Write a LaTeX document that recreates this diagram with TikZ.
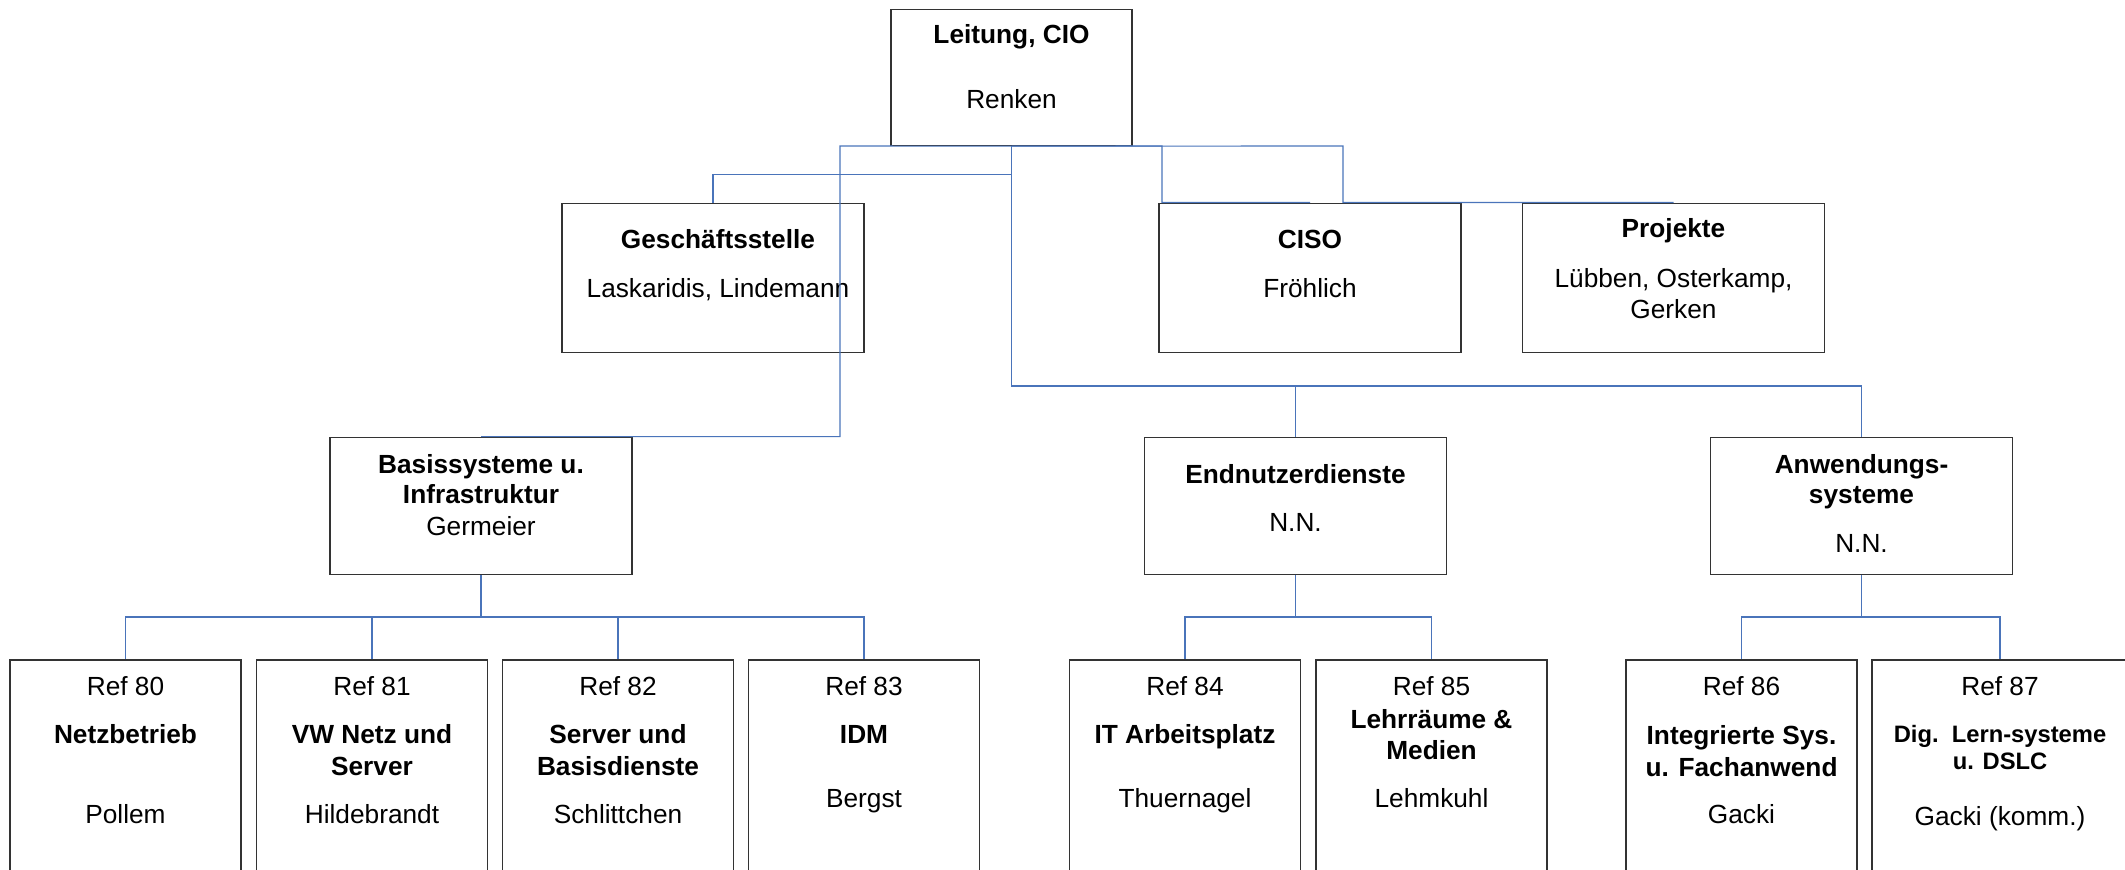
\documentclass[tikz,border=0pt]{standalone}
\usepackage{fontspec}
\setmainfont{Liberation Sans}
\definecolor{linkblue}{RGB}{74,116,186}

\begin{document}
\begin{tikzpicture}[x=0.4pt, y=-0.4pt,
    box/.style={draw=black!80, line width=0.45pt, inner sep=0pt},
    cbox/.style={box, minimum width=96.4pt, minimum height=54.4pt},
    wbox/.style={box, minimum width=120.8pt, minimum height=59.6pt},
    mbox/.style={box, minimum width=120.8pt, minimum height=54.8pt},
    rbox/.style={box, minimum width=92.4pt, minimum height=92pt},
    txt/.style={anchor=base, inner sep=0pt, font=\fontsize{10.5}{12.6}\selectfont},
    hd/.style={txt, font=\fontsize{10.5}{12.6}\selectfont\bfseries},
    conn/.style={draw=linkblue, line width=0.45pt}]
    \useasboundingbox (0,0) rectangle (2125,869);
    \clip (0,0) rectangle (2125,869);

    % Leitung
    \node[cbox] (cio) at (1011.5,77.6) {};
    \node[hd] (cio-a) at (1011.5,43) {Leitung, CIO};
    \node[txt] (cio-b) at (1011.5,108) {Renken};

    % Stabsstellen
    \node[wbox] (gs) at (713,277.6) {};
    \node[hd] (gs-a) at (718,248) {Geschäftsstelle};
    \node[txt] (gs-b) at (718,297) {Laskaridis, Lindemann};

    \node[wbox] (ciso) at (1310,277.6) {};
    \node[hd] (ciso-a) at (1310,248) {CISO};
    \node[txt] (ciso-b) at (1310,297) {Fröhlich};

    \node[wbox] (pj) at (1673.5,277.6) {};
    \node[hd] (pj-a) at (1673.5,237) {Projekte};
    \node[txt] (pj-b) at (1673.5,287) {Lübben, Osterkamp,};
    \node[txt] (pj-c) at (1673.5,318) {Gerken};

    % Abteilungen
    \node[mbox] (bs) at (481,505.7) {};
    \node[hd] (bs-a) at (481,473) {Basissysteme u.};
    \node[hd] (bs-b) at (481,503) {Infrastruktur};
    \node[txt] (bs-c) at (481,535) {Germeier};

    \node[mbox] (en) at (1295.5,505.7) {};
    \node[hd] (en-a) at (1295.5,483) {Endnutzerdienste};
    \node[txt] (en-b) at (1295.5,531) {N.N.};

    \node[mbox] (an) at (1861.5,505.7) {};
    \node[hd] (an-a) at (1861.5,473) {Anwendungs-};
    \node[hd] (an-b) at (1861.5,503) {systeme};
    \node[txt] (an-c) at (1861.5,552) {N.N.};

    % Referate
    \node[rbox] (r80) at (125.5,775) {};
    \node[txt] (r80-a) at (125.5,695) {Ref 80};
    \node[hd] (r80-b) at (125.5,743) {Netzbetrieb};
    \node[txt] (r80-c) at (125.5,823) {Pollem};

    \node[rbox] (r81) at (372,775) {};
    \node[txt] (r81-a) at (372,695) {Ref 81};
    \node[hd] (r81-b) at (372,743) {VW Netz und};
    \node[hd] (r81-c) at (372,775) {Server};
    \node[txt] (r81-d) at (372,823) {Hildebrandt};

    \node[rbox] (r82) at (618,775) {};
    \node[txt] (r82-a) at (618,695) {Ref 82};
    \node[hd] (r82-b) at (618,743) {Server und};
    \node[hd] (r82-c) at (618,775) {Basisdienste};
    \node[txt] (r82-d) at (618,823) {Schlittchen};

    \node[rbox] (r83) at (864,775) {};
    \node[txt] (r83-a) at (864,695) {Ref 83};
    \node[hd] (r83-b) at (864,743) {IDM};
    \node[txt] (r83-c) at (864,807) {Bergst};

    \node[rbox] (r84) at (1185,775) {};
    \node[txt] (r84-a) at (1185,695) {Ref 84};
    \node[hd] (r84-b) at (1185,743) {IT Arbeitsplatz};
    \node[txt] (r84-c) at (1185,807) {Thuernagel};

    \node[rbox] (r85) at (1431.5,775) {};
    \node[txt] (r85-a) at (1431.5,695) {Ref 85};
    \node[hd] (r85-b) at (1431.5,728) {Lehrräume \&};
    \node[hd] (r85-c) at (1431.5,759) {Medien};
    \node[txt] (r85-d) at (1431.5,807) {Lehmkuhl};

    \node[rbox] (r86) at (1741.5,775) {};
    \node[txt] (r86-a) at (1741.5,695) {Ref 86};
    \node[hd] (r86-b) at (1741.5,744) {Integrierte Sys.};
    \node[hd] (r86-c) at (1741.5,776) {u. Fachanwend};
    \node[txt] (r86-d) at (1741.5,823) {Gacki};

    \node[rbox, minimum width=102.4pt] (r87) at (2000,775) {};
    \node[txt] (r87-a) at (2000,695) {Ref 87};
    \node[hd, font=\fontsize{9.5}{11.4}\selectfont\bfseries] (r87-b) at (2000,742) {Dig.\ \ Lern-systeme};
    \node[hd, font=\fontsize{9.5}{11.4}\selectfont\bfseries] (r87-c) at (2000,769) {u. DSLC};
    \node[txt] (r87-d) at (2000,825) {Gacki (komm.)};

    % Verbindungen Leitung
    \coordinate (kb) at (840,146);
    \coordinate (kc) at (1162,146);
    \coordinate (kp) at (1343,146);
    \draw[conn] (cio.south) -- (cio.south |- 0,174.5) -| (gs.north);
    \draw[conn] (cio.south) -- (kb) |- (bs.north);
    \draw[conn] (cio.south) -- (kc) |- (ciso.north);
    \draw[conn] (cio.south) -- (kp) |- (pj.north);
    \draw[conn] (cio.south) -- (cio.south |- 0,386) -| (en.north);
    \draw[conn] (cio.south |- 0,386) -| (an.north);

    % Verbindungen Referate
    \draw[conn] (bs.south) -- (bs.south |- 0,617) -| (r80.north);
    \draw[conn] (bs.south |- 0,617) -| (r81.north);
    \draw[conn] (bs.south |- 0,617) -| (r82.north);
    \draw[conn] (bs.south |- 0,617) -| (r83.north);
    \draw[conn] (en.south) -- (en.south |- 0,617) -| (r84.north);
    \draw[conn] (en.south |- 0,617) -| (r85.north);
    \draw[conn] (an.south) -- (an.south |- 0,617) -| (r86.north);
    \draw[conn] (an.south |- 0,617) -| (r87.north);
\end{tikzpicture}
\end{document}
